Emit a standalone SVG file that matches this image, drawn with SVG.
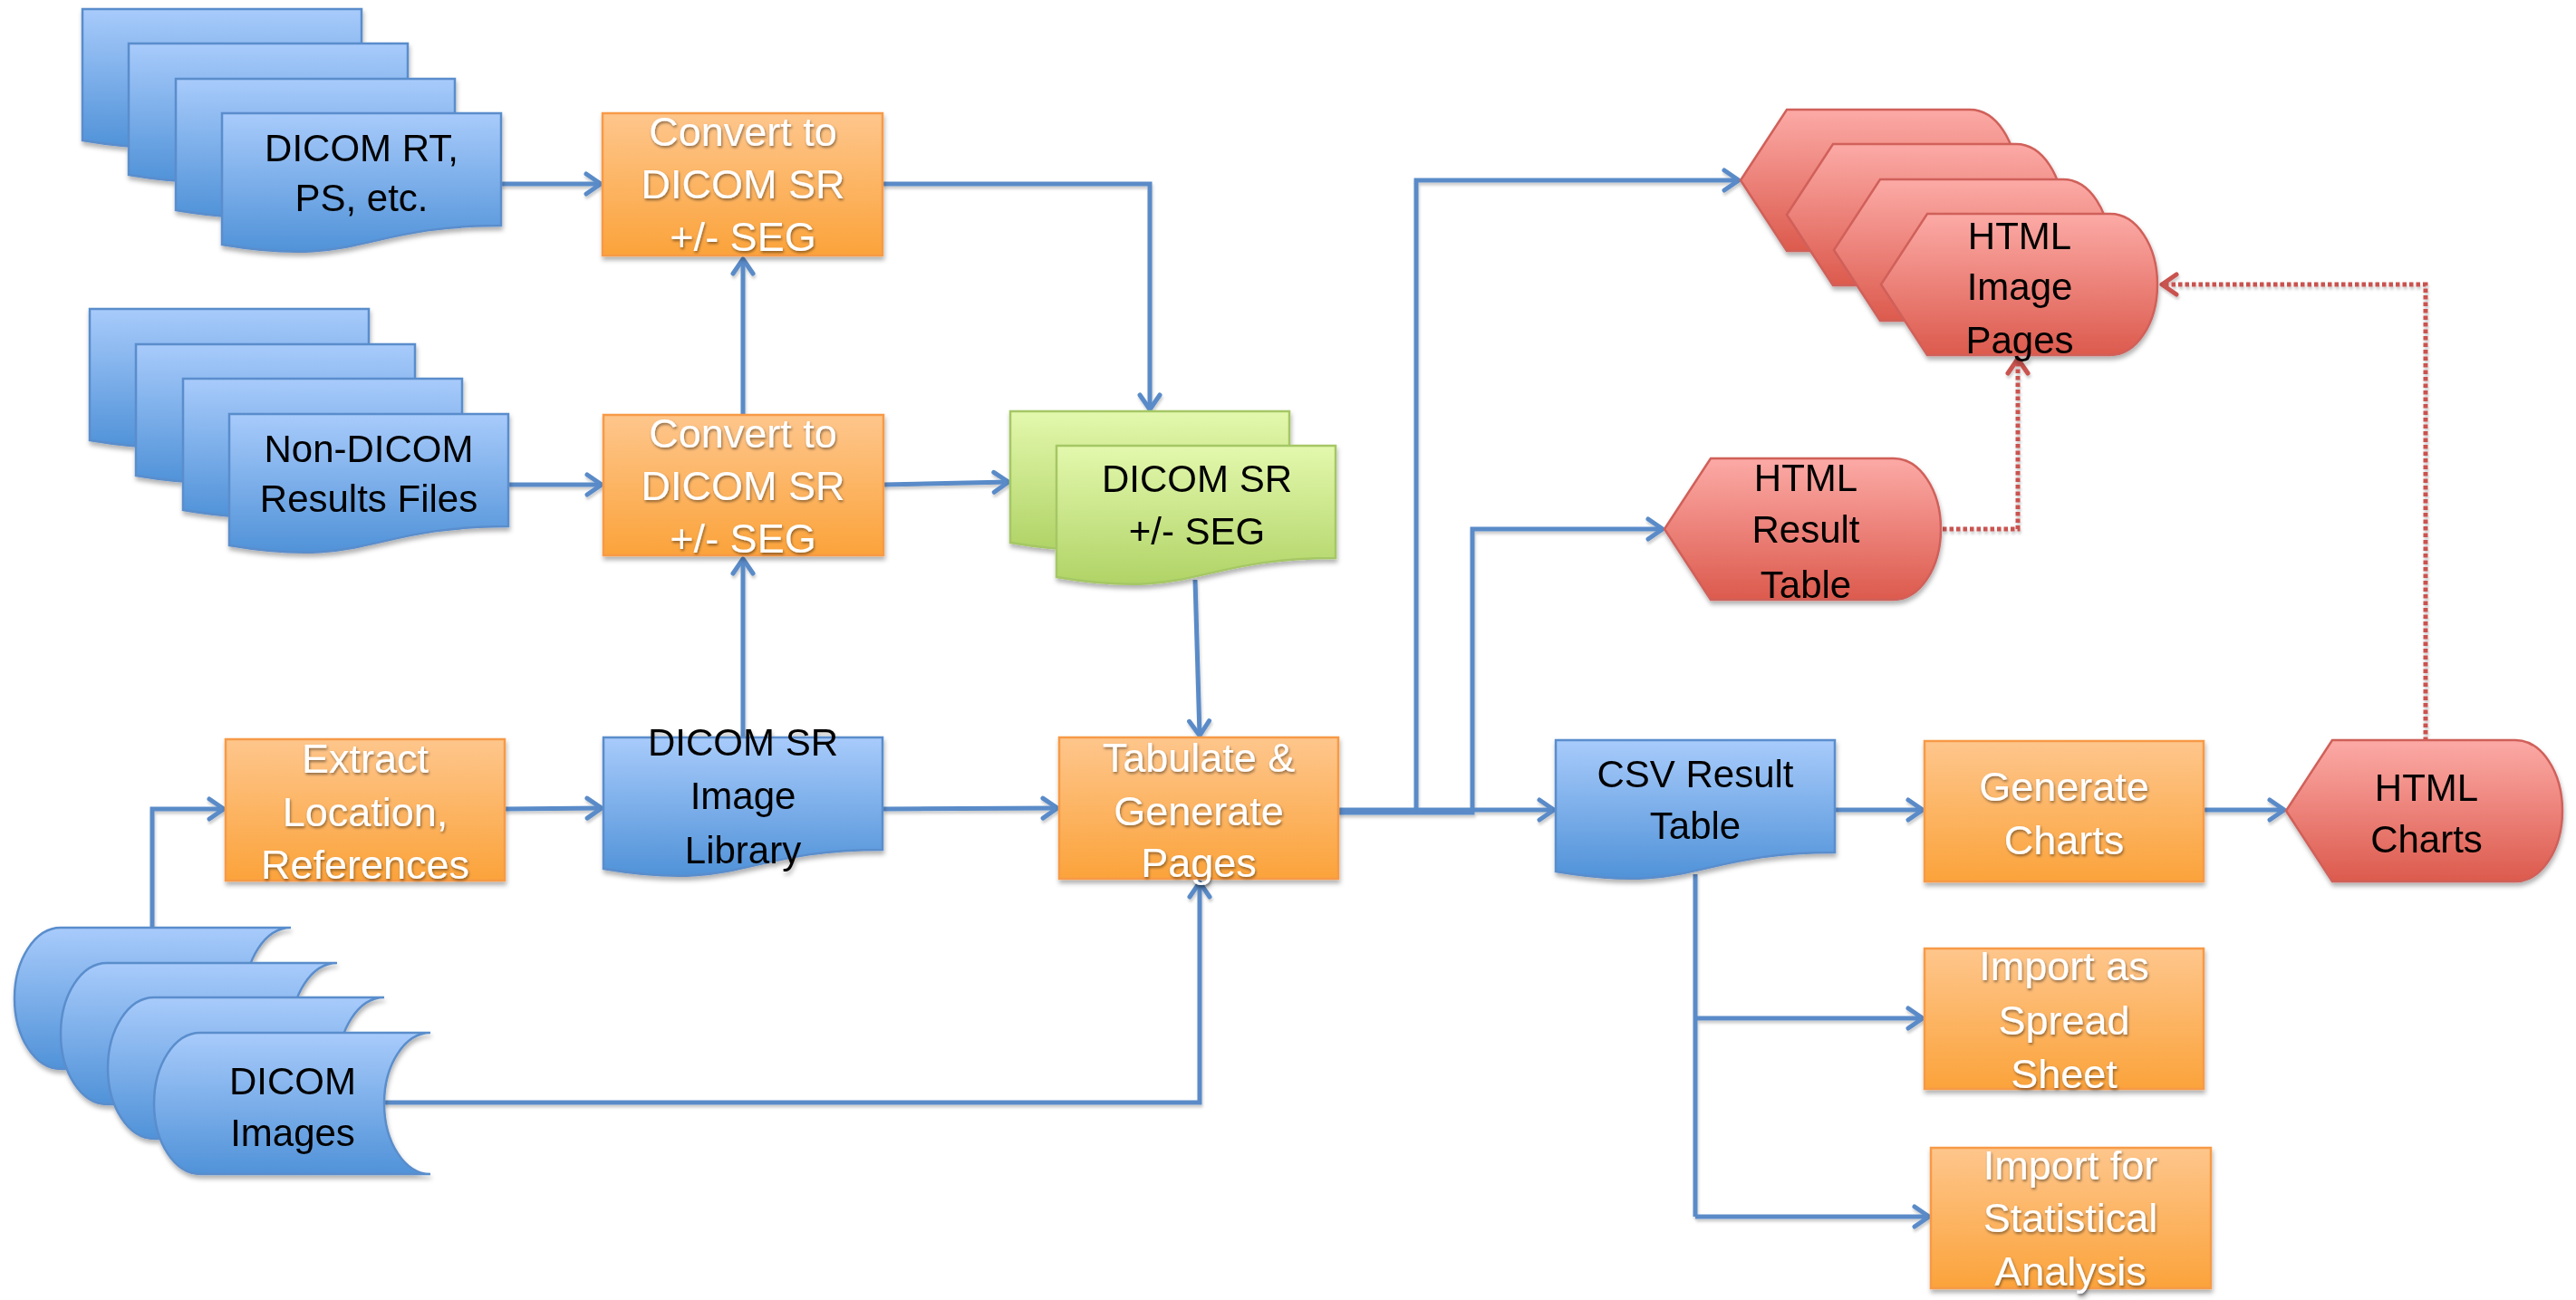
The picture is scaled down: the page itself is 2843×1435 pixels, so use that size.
<svg xmlns="http://www.w3.org/2000/svg" xmlns:xlink="http://www.w3.org/1999/xlink" width="2843" height="1435" viewBox="0 0 2843 1435">
<style>
.t{font-family:"Liberation Sans",Arial,sans-serif;font-size:42px;fill:#000;text-anchor:middle}
.w{font-family:"Liberation Sans",Arial,sans-serif;font-size:45px;fill:#fff;text-anchor:middle;filter:url(#tsh)}
.blue{fill:url(#gBlue);stroke:#5a8dcc;stroke-width:2.5}
.org{fill:url(#gOrg);stroke:#f79a46;stroke-width:2.5}
.grn{fill:url(#gGrn);stroke:#a5c765;stroke-width:2.5}
.red{fill:url(#gRed);stroke:#d0605a;stroke-width:2.5}
.node{filter:url(#sh)}
.conn{fill:none;stroke:#5a8bc8;stroke-width:5;marker-end:url(#arr)}
.line{fill:none;stroke:#5a8bc8;stroke-width:5}
.dot{fill:none;stroke:#c9534f;stroke-width:5;stroke-dasharray:4.5 3;marker-end:url(#arrR)}
</style>
<defs>
<linearGradient id="gBlue" x1="0" y1="0" x2="0" y2="1"><stop offset="0" stop-color="#a8cbfb"/><stop offset="1" stop-color="#5092d8"/></linearGradient>
<linearGradient id="gOrg" x1="0" y1="0" x2="0" y2="1"><stop offset="0" stop-color="#fec68c"/><stop offset="1" stop-color="#fba33b"/></linearGradient>
<linearGradient id="gGrn" x1="0" y1="0" x2="0" y2="1"><stop offset="0" stop-color="#e3f8ad"/><stop offset="1" stop-color="#b0d366"/></linearGradient>
<linearGradient id="gRed" x1="0" y1="0" x2="0" y2="1"><stop offset="0" stop-color="#fcaaa6"/><stop offset="1" stop-color="#dc5a4d"/></linearGradient>
<filter id="sh" x="-10%" y="-10%" width="130%" height="140%"><feDropShadow dx="1" dy="4" stdDeviation="2.5" flood-color="#000" flood-opacity="0.3"/></filter>
<filter id="tsh" x="-10%" y="-20%" width="130%" height="150%"><feDropShadow dx="1" dy="2" stdDeviation="1.5" flood-color="#000" flood-opacity="0.45"/></filter>
<filter id="lsh" x="-5%" y="-5%" width="110%" height="110%"><feDropShadow dx="1" dy="3" stdDeviation="1.5" flood-color="#000" flood-opacity="0.2"/></filter>
<marker id="arr" viewBox="0 0 24 28" refX="20" refY="14" markerWidth="24" markerHeight="28" markerUnits="userSpaceOnUse" orient="auto"><path d="M4,3 L20,14 L4,25" fill="none" stroke="#5a8bc8" stroke-width="5" stroke-linecap="round" stroke-linejoin="round"/></marker>
<marker id="arrR" viewBox="0 0 24 28" refX="20" refY="14" markerWidth="24" markerHeight="28" markerUnits="userSpaceOnUse" orient="auto"><path d="M4,3 L20,14 L4,25" fill="none" stroke="#c9534f" stroke-width="5" stroke-linecap="round" stroke-linejoin="round"/></marker>
<path id="doc" d="M0,0 H308 V124 C154,124 154,171 0,145 Z"/>
<path id="disp" d="M0,78 L51,0 H253 A52,78 0 0 1 253,156 H51 Z"/>
<path id="store" d="M51,0 H305 A51,78 0 0 0 305,156 H51 A51,78 0 0 1 51,0 Z"/>
</defs>
<rect width="2843" height="1435" fill="#fff"/>

<g id="connectors" filter="url(#lsh)">
<path class="conn" d="M552,203 H663"/>
<path class="conn" d="M561,535 H664"/>
<path class="conn" d="M820,458 V286"/>
<path class="conn" d="M820,814 V617"/>
<path class="conn" d="M974,203 H1269 V452"/>
<path class="conn" d="M975,535 L1113,532"/>
<path class="conn" d="M1319,640 L1324,812"/>
<path class="conn" d="M168,1024 V893 H247"/>
<path class="conn" d="M557,893 L664,892"/>
<path class="conn" d="M975,893 L1167,892"/>
<path class="conn" d="M424,1217 H1324 V974"/>
<path class="conn" d="M1477,894 H1715"/>
<path class="conn" d="M1477,896 H1563 V199 H1919"/>
<path class="conn" d="M1477,897 H1625 V584 H1835"/>
<path class="conn" d="M2026,894 H2122"/>
<path class="conn" d="M2432,894 H2521"/>
<path class="line" d="M1871,965 V1343"/>
<path class="conn" d="M1871,1124 H2122"/>
<path class="conn" d="M1871,1343 H2129"/>
<path class="dot" d="M2144,584 H2227 V396"/>
<path class="dot" d="M2677,818 V314 H2386"/>
</g>

<g id="node-dicom-rt" class="node">
<use href="#doc" x="91" y="10" class="blue"/>
<use href="#doc" x="142" y="48" class="blue"/>
<use href="#doc" x="194" y="87" class="blue"/>
<use href="#doc" x="245" y="125" class="blue"/>
<text class="t" x="399" y="178">DICOM RT,</text>
<text class="t" x="399" y="233">PS, etc.</text>
</g>

<g id="node-non-dicom" class="node">
<use href="#doc" x="99" y="341" class="blue"/>
<use href="#doc" x="150" y="380" class="blue"/>
<use href="#doc" x="202" y="418" class="blue"/>
<use href="#doc" x="253" y="457" class="blue"/>
<text class="t" x="407" y="510">Non-DICOM</text>
<text class="t" x="407" y="565">Results Files</text>
</g>

<g id="node-convert1" class="node">
<rect x="665" y="125" width="309" height="157" class="org"/>
<text class="w" x="820" y="161">Convert to</text>
<text class="w" x="820" y="219">DICOM SR</text>
<text class="w" x="820" y="277">+/- SEG</text>
</g>

<g id="node-convert2" class="node">
<rect x="666" y="458" width="309" height="155" class="org"/>
<text class="w" x="820" y="494">Convert to</text>
<text class="w" x="820" y="552">DICOM SR</text>
<text class="w" x="820" y="610">+/- SEG</text>
</g>

<g id="node-dicom-sr" class="node">
<use href="#doc" x="1115" y="454" class="grn"/>
<use href="#doc" x="1166" y="492" class="grn"/>
<text class="t" x="1321" y="543">DICOM SR</text>
<text class="t" x="1321" y="601">+/- SEG</text>
</g>

<g id="node-extract" class="node">
<rect x="249" y="816" width="308" height="156" class="org"/>
<text class="w" x="403" y="853">Extract</text>
<text class="w" x="403" y="912">Location,</text>
<text class="w" x="403" y="970">References</text>
</g>

<g id="node-library" class="node">
<use href="#doc" x="666" y="814" class="blue"/>
<text class="t" x="820" y="834">DICOM SR</text>
<text class="t" x="820" y="893">Image</text>
<text class="t" x="820" y="953">Library</text>
</g>

<g id="node-images" class="node">
<use href="#store" x="16" y="1024" class="blue"/>
<use href="#store" x="67" y="1063" class="blue"/>
<use href="#store" x="119" y="1101" class="blue"/>
<use href="#store" x="170" y="1140" class="blue"/>
<text class="t" x="323" y="1208">DICOM</text>
<text class="t" x="323" y="1265">Images</text>
</g>

<g id="node-tabulate" class="node">
<rect x="1169" y="814" width="308" height="156" class="org"/>
<text class="w" x="1323" y="852">Tabulate &amp;</text>
<text class="w" x="1323" y="911">Generate</text>
<text class="w" x="1323" y="968">Pages</text>
</g>

<g id="node-html-pages" class="node">
<use href="#disp" x="1921" y="121" class="red"/>
<use href="#disp" x="1972" y="159" class="red"/>
<use href="#disp" x="2024" y="198" class="red"/>
<use href="#disp" x="2076" y="236" class="red"/>
<text class="t" x="2229" y="275">HTML</text>
<text class="t" x="2229" y="331">Image</text>
<text class="t" x="2229" y="390">Pages</text>
</g>

<g id="node-html-result" class="node">
<use href="#disp" x="1837" y="506" class="red"/>
<text class="t" x="1993" y="542">HTML</text>
<text class="t" x="1993" y="599">Result</text>
<text class="t" x="1993" y="660">Table</text>
</g>

<g id="node-csv" class="node">
<use href="#doc" x="1717" y="817" class="blue"/>
<text class="t" x="1871" y="869">CSV Result</text>
<text class="t" x="1871" y="926">Table</text>
</g>

<g id="node-gen-charts" class="node">
<rect x="2124" y="818" width="308" height="155" class="org"/>
<text class="w" x="2278" y="884">Generate</text>
<text class="w" x="2278" y="943">Charts</text>
</g>

<g id="node-html-charts" class="node">
<use href="#disp" x="2523" y="817" class="red"/>
<text class="t" x="2678" y="884">HTML</text>
<text class="t" x="2678" y="941">Charts</text>
</g>

<g id="node-import-sheet" class="node">
<rect x="2124" y="1047" width="308" height="155" class="org"/>
<text class="w" x="2278" y="1082">Import as</text>
<text class="w" x="2278" y="1142">Spread</text>
<text class="w" x="2278" y="1201">Sheet</text>
</g>

<g id="node-import-stat" class="node">
<rect x="2131" y="1267" width="309" height="155" class="org"/>
<text class="w" x="2285" y="1302">Import for</text>
<text class="w" x="2285" y="1360">Statistical</text>
<text class="w" x="2285" y="1419">Analysis</text>
</g>
</svg>
